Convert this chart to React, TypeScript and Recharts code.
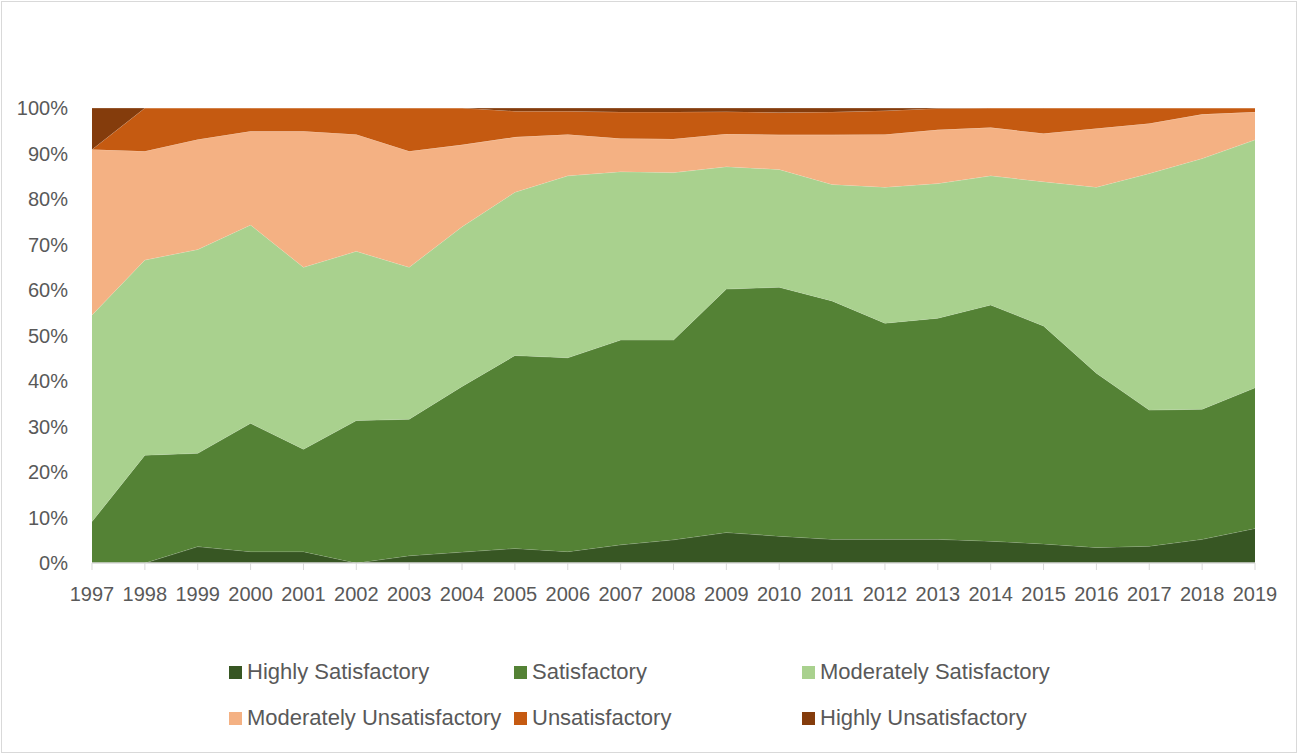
import React from "react";
import { Area, AreaChart, XAxis, YAxis } from "recharts";

// Share of ratings per year (percent of projects).
const YEARS = [
  "1997", "1998", "1999", "2000", "2001", "2002", "2003", "2004", "2005", "2006", "2007", "2008",
  "2009", "2010", "2011", "2012", "2013", "2014", "2015", "2016", "2017", "2018", "2019",
];

const HIGHLY_SATISFACTORY = [
  0, 0, 3.6, 2.5, 2.5, 0, 1.6, 2.4, 3.2, 2.5, 4.0, 5.1, 6.7, 5.9, 5.2, 5.2, 5.2, 4.8, 4.2, 3.4, 3.7, 5.2, 7.6,
];
const SATISFACTORY = [
  9.1, 23.7, 20.5, 28.2, 22.5, 31.3, 30.0, 36.4, 42.4, 42.6, 45.0, 43.9, 53.5, 54.7, 52.4, 47.5, 48.6, 51.9,
  47.9, 38.3, 29.9, 28.6, 30.9,
];
const MODERATELY_SATISFACTORY = [
  45.4, 42.9, 44.8, 43.6, 40.0, 37.2, 33.4, 35.1, 35.9, 40.0, 37.0, 36.8, 26.9, 25.9, 25.6, 29.9, 29.6, 28.4,
  31.7, 40.9, 52.0, 55.1, 54.5,
];
const MODERATELY_UNSATISFACTORY = [
  36.4, 23.9, 24.2, 20.6, 29.9, 25.7, 25.5, 18.0, 12.1, 9.1, 7.3, 7.4, 7.2, 7.6, 10.9, 11.6, 11.8, 10.6,
  10.6, 12.9, 11.0, 9.7, 6.1,
];
const UNSATISFACTORY = [
  0, 9.5, 6.9, 5.1, 5.1, 5.8, 9.5, 8.1, 5.7, 5.1, 5.8, 5.9, 4.9, 4.9, 5.0, 5.2, 4.7, 4.3, 5.6, 4.5, 3.4, 1.4, 0.9,
];
const HIGHLY_UNSATISFACTORY = [
  9.1, 0, 0, 0, 0, 0, 0, 0, 0.7, 0.7, 0.9, 0.9, 0.8, 1.0, 0.9, 0.6, 0.1, 0, 0, 0, 0, 0, 0,
];

const Y_TICKS = [0, 0.1, 0.2, 0.3, 0.4, 0.5, 0.6, 0.7, 0.8, 0.9, 1];

const SERIES = [
  { key: "hs", name: "Highly Satisfactory", color: "#375623", values: HIGHLY_SATISFACTORY },
  { key: "s", name: "Satisfactory", color: "#548235", values: SATISFACTORY },
  { key: "ms", name: "Moderately Satisfactory", color: "#A9D18E", values: MODERATELY_SATISFACTORY },
  { key: "mu", name: "Moderately Unsatisfactory", color: "#F4B183", values: MODERATELY_UNSATISFACTORY },
  { key: "u", name: "Unsatisfactory", color: "#C55A11", values: UNSATISFACTORY },
  { key: "hu", name: "Highly Unsatisfactory", color: "#843C0C", values: HIGHLY_UNSATISFACTORY },
];

const data = YEARS.map((year, i) => {
  const row: Record<string, string | number> = { year };
  SERIES.forEach((s) => {
    row[s.key] = s.values[i];
  });
  return row;
});

const FONT = "'Liberation Sans', Arial, sans-serif";
const TEXT = "#595959";
const LINE = "#d9d9d9";
const TICK = { fill: TEXT, fontSize: 20, fontFamily: FONT } as const;

// Legend is laid out as a 3-column grid, two rows.
const LEGEND_COLS = [229, 514, 802];
const LEGEND_ROWS = [672, 718];

export default function App() {
  return (
    <div
      style={{
        position: "absolute",
        left: 0,
        top: 0,
        width: 1297,
        height: 753,
        background: "#fff",
        fontFamily: FONT,
      }}
    >
      <div
        style={{
          position: "absolute",
          left: 1,
          top: 1,
          width: 1294,
          height: 750,
          border: `1px solid ${LINE}`,
        }}
      />
      <AreaChart
        width={1297}
        height={753}
        data={data}
        stackOffset="expand"
        margin={{ top: 108, right: 42, left: 0, bottom: 130 }}
      >
        <XAxis
          dataKey="year"
          tick={TICK}
          tickLine={{ stroke: LINE }}
          tickSize={7}
          tickMargin={17}
          axisLine={{ stroke: LINE, strokeWidth: 1.5 }}
          interval={0}
          height={60}
        />
        <YAxis
          domain={[0, 1]}
          ticks={Y_TICKS}
          tick={TICK}
          tickFormatter={(v) => `${Math.round(Number(v) * 100)}%`}
          tickLine={false}
          axisLine={false}
          tickMargin={18}
          width={92}
        />
        {SERIES.map((s) => (
          <Area
            key={s.key}
            type="linear"
            dataKey={s.key}
            name={s.name}
            stackId="1"
            fill={s.color}
            fillOpacity={1}
            stroke="#ffffff"
            strokeOpacity={0.35}
            strokeWidth={0.75}
            isAnimationActive={false}
          />
        ))}
      </AreaChart>
      {SERIES.map((s, i) => (
        <div
          key={s.key}
          style={{
            position: "absolute",
            left: LEGEND_COLS[i % 3],
            top: LEGEND_ROWS[Math.floor(i / 3)] - 13,
            height: 26,
            display: "flex",
            alignItems: "center",
            gap: 5,
            fontSize: 22,
            color: TEXT,
            whiteSpace: "nowrap",
          }}
        >
          <span style={{ width: 13, height: 13, background: s.color, display: "inline-block" }} />
          <span>{s.name}</span>
        </div>
      ))}
    </div>
  );
}
